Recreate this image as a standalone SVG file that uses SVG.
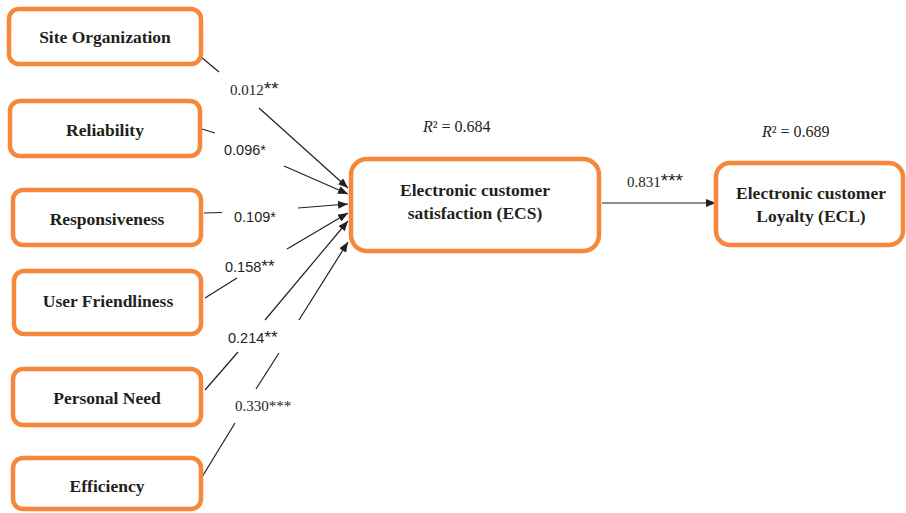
<svg xmlns="http://www.w3.org/2000/svg" width="906" height="513" viewBox="0 0 906 513">
<style>
.box{fill:#fff;stroke:#F5883A;stroke-width:4.5}
.nl{font-family:"Liberation Serif",serif;font-weight:bold;font-size:17.5px;fill:#231F20;text-anchor:middle}
.ser{font-family:"Liberation Serif",serif;font-size:15px;fill:#231F20}
.r2{font-family:"Liberation Serif",serif;font-size:16px;fill:#231F20}
.san{font-family:"Liberation Sans",sans-serif;font-size:14.5px;fill:#231F20}
.ast{font-family:"Liberation Sans",sans-serif;font-size:19px}
.ast2{font-size:17px}
.ln{stroke:#231F20;stroke-width:1.2;fill:none}
</style>
<defs>
<marker id="ah" viewBox="0 0 10 8" refX="10" refY="4" markerWidth="10" markerHeight="8" markerUnits="userSpaceOnUse" orient="auto">
<path d="M0,0 L10,4 L0,8 z" fill="#231F20"/>
</marker>
</defs>
<g id="connectors">
<line class="ln" x1="201" y1="57" x2="219" y2="72"/>
<line class="ln" x1="259" y1="108" x2="348" y2="188" marker-end="url(#ah)"/>
<line class="ln" x1="202" y1="129" x2="215" y2="133"/>
<line class="ln" x1="284" y1="166" x2="348" y2="194" marker-end="url(#ah)"/>
<line class="ln" x1="204" y1="213" x2="222" y2="212.5"/>
<line class="ln" x1="298" y1="208" x2="348" y2="204" marker-end="url(#ah)"/>
<line class="ln" x1="205" y1="298" x2="237" y2="278"/>
<line class="ln" x1="287" y1="249" x2="348" y2="213" marker-end="url(#ah)"/>
<line class="ln" x1="205" y1="390" x2="238" y2="352"/>
<line class="ln" x1="265" y1="320" x2="348" y2="221" marker-end="url(#ah)"/>
<line class="ln" x1="202" y1="477" x2="235" y2="423"/>
<line class="ln" x1="256" y1="389" x2="279" y2="353"/>
<line class="ln" x1="299" y1="320" x2="348" y2="242" marker-end="url(#ah)"/>
<line class="ln" x1="602" y1="203" x2="716" y2="203" marker-end="url(#ah)"/>
<text class="ser" x="230" y="95">0.012<tspan class="ast">**</tspan></text>
<text class="san" x="224" y="155">0.096*</text>
<text class="san" x="234" y="222">0.109*</text>
<text class="san" x="225" y="272">0.158<tspan class="ast2">**</tspan></text>
<text class="san" x="228" y="343">0.214<tspan class="ast2">**</tspan></text>
<text class="ser" x="235" y="411">0.330***</text>
<text class="ser" x="627" y="187">0.831<tspan class="ast">***</tspan></text>
</g>
<g id="site-organization">
<rect class="box" x="9" y="9" width="192" height="55" rx="10"/>
<text class="nl" x="105" y="43">Site Organization</text>
</g>
<g id="reliability">
<rect class="box" x="10" y="101" width="190" height="55" rx="10"/>
<text class="nl" x="105" y="136">Reliability</text>
</g>
<g id="responsiveness">
<rect class="box" x="13" y="190" width="188" height="55" rx="10"/>
<text class="nl" x="107" y="225">Responsiveness</text>
</g>
<g id="user-friendliness">
<rect class="box" x="14" y="271" width="187" height="63" rx="10"/>
<text class="nl" x="108" y="307">User Friendliness</text>
</g>
<g id="personal-need">
<rect class="box" x="13" y="369" width="188" height="56" rx="10"/>
<text class="nl" x="107" y="404">Personal Need</text>
</g>
<g id="efficiency">
<rect class="box" x="13" y="458" width="188" height="51" rx="10"/>
<text class="nl" x="107" y="492">Efficiency</text>
</g>
<g id="ecs">
<rect class="box" x="351" y="159" width="248" height="92" rx="16"/>
<text class="nl" x="475" y="196">Electronic customer</text>
<text class="nl" x="475" y="219">satisfaction (ECS)</text>
<text class="r2" x="423" y="132"><tspan font-style="italic">R</tspan>² = 0.684</text>
</g>
<g id="ecl">
<rect class="box" x="716" y="163" width="187" height="82" rx="14"/>
<text class="nl" x="811" y="199">Electronic customer</text>
<text class="nl" x="811" y="222">Loyalty (ECL)</text>
<text class="r2" x="762" y="137"><tspan font-style="italic">R</tspan>² = 0.689</text>
</g>
</svg>
